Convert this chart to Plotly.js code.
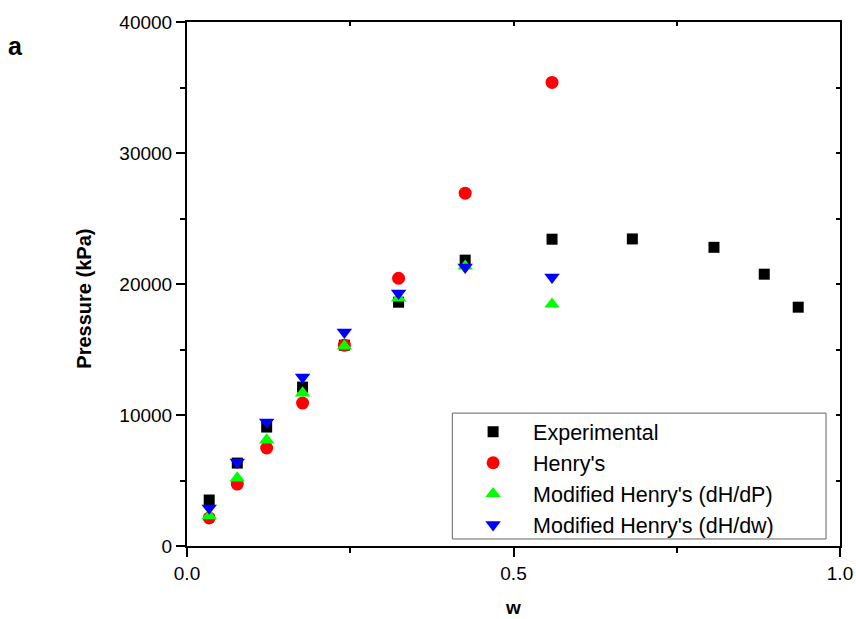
<!DOCTYPE html>
<html>
<head>
<meta charset="utf-8">
<script src="https://cdn.plot.ly/plotly-3.0.1.min.js"></script>
<style>html,body{margin:0;padding:0;background:#fff;}#chart{width:856px;height:619px;}</style>
</head>
<body>
<div id="chart"></div>
<script>
// Data
const expW = [0.034, 0.077, 0.122, 0.177, 0.241, 0.324, 0.426, 0.559, 0.682, 0.807, 0.884, 0.936];
const expP = [3510, 6330, 9080, 12130, 15330, 18610, 21820, 23420, 23440, 22800, 20750, 18230];

const henryW = [0.034, 0.077, 0.122, 0.177, 0.241, 0.324, 0.426, 0.559];
const henryP = [2140, 4730, 7480, 10910, 15330, 20440, 26930, 35390];

const dHdPW = [0.034, 0.077, 0.122, 0.177, 0.241, 0.324, 0.426, 0.559];
const dHdPP = [2300, 5190, 8090, 11670, 15250, 18920, 21360, 18460];

const dHdwW = [0.034, 0.077, 0.122, 0.177, 0.241, 0.324, 0.426, 0.559];
const dHdwP = [2900, 6400, 9460, 12890, 16320, 19300, 21280, 20520];

const xTickVals = [0, 0.5, 1.0];
const xTickText = ['0.0', '0.5', '1.0'];
const yTickVals = [0, 10000, 20000, 30000, 40000];
const yTickText = ['0', '10000', '20000', '30000', '40000'];

const traces = [
  {x: expW, y: expP, name: 'Experimental', mode: 'markers', type: 'scatter',
   marker: {symbol: 'square', size: 11, color: '#000000'}},
  {x: henryW, y: henryP, name: "Henry's", mode: 'markers', type: 'scatter',
   marker: {symbol: 'circle', size: 13, color: '#ff0000'}},
  {x: dHdPW, y: dHdPP, name: "Modified Henry's (dH/dP)", mode: 'markers', type: 'scatter',
   marker: {symbol: 'triangle-up', size: 13.5, color: '#00ff00'}},
  {x: dHdwW, y: dHdwP, name: "Modified Henry's (dH/dw)", mode: 'markers', type: 'scatter',
   marker: {symbol: 'triangle-down', size: 13.5, color: '#0000ff'}},
  {x: [], y: [], xaxis: 'x2', yaxis: 'y2', showlegend: false, hoverinfo: 'skip', type: 'scatter', mode: 'markers'}
];

const tickFont = {family: 'Liberation Sans, Arial, sans-serif', size: 19, color: '#000'};
const titleFont = {family: 'Liberation Sans, Arial, sans-serif', size: 19, color: '#000', weight: 'bold'};

const layout = {
  width: 856, height: 619,
  margin: {l: 186.5, r: 16, t: 21.5, b: 73},
  paper_bgcolor: '#fff', plot_bgcolor: '#fff',
  showlegend: true,
  xaxis: {
    range: [0, 1], tickmode: 'array', tickvals: xTickVals, ticktext: xTickText,
    ticks: 'outside', ticklen: 9, tickwidth: 2, tickcolor: '#000',
    minor: {tickmode: 'array', tickvals: [0.25, 0.75], ticks: 'outside', ticklen: 5, tickwidth: 2, tickcolor: '#000'},
    showline: true, linewidth: 2, linecolor: '#000', showgrid: false, zeroline: false,
    tickfont: tickFont,
    title: {text: 'w', font: titleFont, standoff: 18}
  },
  yaxis: {
    range: [0, 40000], tickmode: 'array', tickvals: yTickVals, ticktext: yTickText,
    ticks: 'outside', ticklen: 9, tickwidth: 2, tickcolor: '#000',
    minor: {tickmode: 'array', tickvals: [5000, 15000, 25000, 35000], ticks: 'outside', ticklen: 5, tickwidth: 2, tickcolor: '#000'},
    showline: true, linewidth: 2, linecolor: '#000', showgrid: false, zeroline: false,
    tickfont: tickFont
  },
  xaxis2: {
    overlaying: 'x', side: 'top', range: [0, 1], tickmode: 'array', tickvals: [0.25, 0.5, 0.75],
    ticks: 'inside', ticklen: 4, tickwidth: 2, tickcolor: '#000', showticklabels: false,
    showline: true, linewidth: 2, linecolor: '#000', showgrid: false, zeroline: false
  },
  yaxis2: {
    overlaying: 'y', side: 'right', range: [0, 40000], tickmode: 'array',
    tickvals: [5000, 10000, 15000, 20000, 25000, 30000, 35000],
    ticks: 'inside', ticklen: 4, tickwidth: 2, tickcolor: '#000', showticklabels: false,
    showline: true, linewidth: 2, linecolor: '#000', showgrid: false, zeroline: false
  },
  legend: {
    x: 0.4075, y: 0.257, xanchor: 'left', yanchor: 'top',
    bgcolor: 'rgba(0,0,0,0)', borderwidth: 0,
    font: {family: 'Liberation Sans, Arial, sans-serif', size: 21.5, color: '#000'},
    itemwidth: 70, tracegroupgap: 0
  },
  shapes: [
    {type: 'rect', xref: 'paper', yref: 'paper', x0: 0.4063, x1: 0.9786, y0: 0.0134, y1: 0.2536,
     line: {color: '#666', width: 1}, fillcolor: '#fff', layer: 'below'}
  ],
  annotations: [
    {text: 'a', xref: 'paper', yref: 'paper', x: -0.262, y: 0.955, xanchor: 'center', yanchor: 'middle',
     showarrow: false, font: {family: 'Liberation Sans, Arial, sans-serif', size: 25, color: '#000', weight: 'bold'}},
    {text: 'Pressure (kPa)', xref: 'paper', yref: 'paper', x: -0.157, y: 0.473, xanchor: 'center', yanchor: 'middle',
     textangle: -90, showarrow: false, font: {family: 'Liberation Sans, Arial, sans-serif', size: 20, color: '#000', weight: 'bold'}}
  ]
};

Plotly.newPlot('chart', traces, layout, {displayModeBar: false, staticPlot: true});
</script>
</body>
</html>
